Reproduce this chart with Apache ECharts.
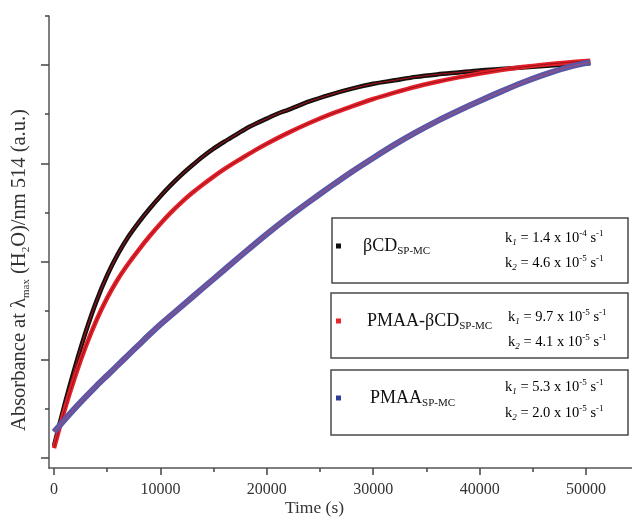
<!DOCTYPE html>
<html>
<head>
<meta charset="utf-8">
<script src="https://cdn.jsdelivr.net/npm/echarts@6/dist/echarts.min.js"></script>
<style>html,body{margin:0;padding:0;background:#fff}#c{width:632px;height:517px}</style>
</head>
<body>
<div id="c"></div>
<script>
// ---- data ----
const tBCD = [0, 1000, 2000, 3000, 4000, 5000, 6000, 7000, 8000, 9000, 10000, 11000, 12000, 13000, 14000, 15000, 16000, 17000, 18000, 19000, 20000, 21000, 22000, 24000, 26000, 28000, 30000, 32000, 34000, 36000, 38000, 40000, 42000, 44000, 46000, 48000, 50400];
const aBCD = [0.025, 0.109, 0.187, 0.258, 0.320, 0.372, 0.415, 0.451, 0.481, 0.508, 0.533, 0.556, 0.577, 0.596, 0.614, 0.630, 0.644, 0.657, 0.670, 0.681, 0.691, 0.701, 0.709, 0.726, 0.740, 0.752, 0.762, 0.769, 0.776, 0.781, 0.785, 0.789, 0.792, 0.795, 0.798, 0.801, 0.804];

const tPMAABCD = [0, 1000, 2000, 3000, 4000, 5000, 6000, 7000, 8000, 9000, 10000, 11000, 12000, 13000, 14000, 15000, 16000, 17000, 18000, 19000, 20000, 22000, 24000, 26000, 28000, 30000, 32000, 34000, 36000, 38000, 40000, 42000, 44000, 46000, 48000, 50400];
const aPMAABCD = [0.020, 0.098, 0.167, 0.228, 0.281, 0.326, 0.364, 0.396, 0.425, 0.452, 0.477, 0.500, 0.521, 0.540, 0.557, 0.573, 0.588, 0.602, 0.615, 0.628, 0.640, 0.662, 0.682, 0.700, 0.716, 0.731, 0.744, 0.756, 0.766, 0.775, 0.783, 0.790, 0.796, 0.801, 0.805, 0.809];

const tPMAA = [0, 1000, 2000, 3000, 4000, 5000, 6000, 7000, 8000, 9000, 10000, 12000, 14000, 16000, 18000, 20000, 22000, 24000, 26000, 28000, 30000, 32000, 34000, 36000, 38000, 40000, 42000, 44000, 46000, 48000, 50400];
const aPMAA = [0.053, 0.078, 0.102, 0.125, 0.147, 0.168, 0.189, 0.210, 0.231, 0.252, 0.272, 0.309, 0.346, 0.383, 0.420, 0.456, 0.490, 0.522, 0.553, 0.583, 0.611, 0.638, 0.663, 0.686, 0.707, 0.727, 0.746, 0.764, 0.780, 0.794, 0.806];

const seriesNames = ['βCD', 'PMAA-βCD', 'PMAA'];
const subscript = 'SP-MC';
const k1Mant = ['1.4', '9.7', '5.3'];
const k1Exp = ['-4', '-5', '-5'];
const k2Mant = ['4.6', '4.1', '2.0'];
const k2Exp = ['-5', '-5', '-5'];

const xMajor = [0, 10000, 20000, 30000, 40000, 50000];
const xMinor = [5000, 15000, 25000, 35000, 45000];
const yMajor = [0, 0.2, 0.4, 0.6, 0.8];
const yMinor = [0.1, 0.3, 0.5, 0.7, 0.9];

// ---- styling ----
const FONT = 'Liberation Serif';
const dataColors = ['#151010', '#e4222c', '#5a58a6'];
const fitColors = ['#b0141c', '#9c0f16', '#b04a78'];
const dataWidths = [4.5, 4.5, 6];
const iconColors = ['#111111', '#e8262e', '#2f3f98'];
const kColors = ['#222222', '#e5404a', '#4b50a0'];

function pairs(t, a) { return t.map((x, i) => [x, a[i]]); }
const sets = [pairs(tBCD, aBCD), pairs(tPMAABCD, aPMAABCD), pairs(tPMAA, aPMAA)];

const series = [];
sets.forEach((d, i) => {
  series.push({
    name: seriesNames[i], type: 'line', data: d, smooth: 0.3, symbol: 'none',
    lineStyle: { color: dataColors[i], width: dataWidths[i] },
    itemStyle: { color: iconColors[i] }, z: 2 + i * 2
  });
  series.push({
    name: seriesNames[i] + ' fit', type: 'line', data: d, smooth: 0.3, symbol: 'none',
    lineStyle: { color: fitColors[i], width: 1 }, z: 3 + i * 2, silent: true
  });
});

const boxes = [
  { x: 332, y: 218, w: 296, h: 65, iy: 248, k1y: 238, k2y: 263, kx: 505 },
  { x: 331, y: 293, w: 297, h: 65, iy: 323, k1y: 317, k2y: 342, kx: 508 },
  { x: 331, y: 370, w: 297, h: 65, iy: 400, k1y: 387, k2y: 413, kx: 505 }
];

const kRich = (c) => ({
  m: { fontFamily: FONT, fontSize: 14.5, color: c, lineHeight: 18 },
  sb: { fontFamily: FONT, fontSize: 9, fontStyle: 'italic', color: c, lineHeight: 9, verticalAlign: 'bottom' },
  sp: { fontFamily: FONT, fontSize: 9, color: c, lineHeight: 9, verticalAlign: 'top' }
});

const graphic = [];
const legends = [];
boxes.forEach((b, i) => {
  graphic.push({ type: 'rect', z: 1, shape: { x: b.x, y: b.y, width: b.w, height: b.h },
    style: { fill: '#fff', stroke: '#4a4a4a', lineWidth: 1.5 } });
  graphic.push({ type: 'text', z: 10, x: b.kx, y: b.k1y,
    style: { text: '{m|k}{sb|1}{m| = ' + k1Mant[i] + ' x 10}{sp|' + k1Exp[i] + '}{m| s}{sp|-1}',
      rich: kRich(kColors[i]), verticalAlign: 'middle', align: 'left' } });
  graphic.push({ type: 'text', z: 10, x: b.kx, y: b.k2y,
    style: { text: '{m|k}{sb|2}{m| = ' + k2Mant[i] + ' x 10}{sp|' + k2Exp[i] + '}{m| s}{sp|-1}',
      rich: kRich(kColors[i]), verticalAlign: 'middle', align: 'left' } });
  legends.push({
    data: [seriesNames[i]], left: 336, top: b.iy - 11, padding: 0, z: 8,
    icon: 'rect', itemWidth: 5, itemHeight: 5, selectedMode: false,
    formatter: (n) => '{g|}{n|' + n + '}{s|' + subscript + '}',
    textStyle: {
      rich: {
        g: { width: [22, 26, 29][i] - 5, lineHeight: 22 },
        n: { fontFamily: FONT, fontSize: 18, color: '#111', lineHeight: 22 },
        s: { fontFamily: FONT, fontSize: 11, color: '#111', lineHeight: 11, verticalAlign: 'bottom' }
      }
    }
  });
});

const axisLineStyle = { color: '#555', width: 1.5 };

const option = {
  animation: false,
  backgroundColor: '#fff',
  grid: { left: 49, right: 0, top: 16, bottom: 49, containLabel: false, outerBoundsMode: 'none' },
  xAxis: [
    {
      type: 'value', min: -470, max: 54320, position: 'bottom',
      axisLine: { show: true, onZero: false, lineStyle: axisLineStyle },
      axisTick: { show: true, customValues: xMajor, length: 7, lineStyle: { color: '#444', width: 1.5 } },
      axisLabel: { customValues: xMajor, formatter: (v) => String(v), fontFamily: FONT, fontSize: 16, color: '#333', margin: 14 },
      splitLine: { show: false },
      name: 'Time (s)', nameLocation: 'middle', nameGap: 31, nameMoveOverlap: false,
      nameTextStyle: { fontFamily: FONT, fontSize: 17.5, color: '#333', padding: [0, 52, 0, 0] }
    },
    {
      type: 'value', min: -470, max: 54320, position: 'bottom',
      axisLine: { show: false, onZero: false },
      axisTick: { show: true, customValues: xMinor, length: 4, lineStyle: { color: '#444', width: 1.5 } },
      axisLabel: { show: false }, splitLine: { show: false }
    }
  ],
  yAxis: [
    {
      type: 'value', min: -0.0204, max: 0.9, position: 'left',
      axisLine: { show: true, onZero: false, lineStyle: axisLineStyle },
      axisTick: { show: true, customValues: yMajor, length: 8, lineStyle: { color: '#444', width: 1.5 } },
      axisLabel: { show: false }, splitLine: { show: false },
      name: '{t|Absorbance at λ}{s|max}{t| (H}{s|2}{t|O)/nm 514 (a.u.)}',
      nameLocation: 'middle', nameGap: 17,
      nameTextStyle: {
        padding: [0, 56, 0, 0],
        rich: {
          t: { fontFamily: FONT, fontSize: 20.5, color: '#333', lineHeight: 24 },
          s: { fontFamily: FONT, fontSize: 11, color: '#333', lineHeight: 11, verticalAlign: 'bottom' }
        }
      }
    },
    {
      type: 'value', min: -0.0204, max: 0.9, position: 'left',
      axisLine: { show: false, onZero: false },
      axisTick: { show: true, customValues: yMinor, length: 4, lineStyle: { color: '#444', width: 1.5 } },
      axisLabel: { show: false }, splitLine: { show: false }
    }
  ],
  legend: legends,
  graphic: graphic,
  series: series
};

const chart = echarts.init(document.getElementById('c'), null, { renderer: 'canvas' });
chart.setOption(option);
</script>
</body>
</html>
